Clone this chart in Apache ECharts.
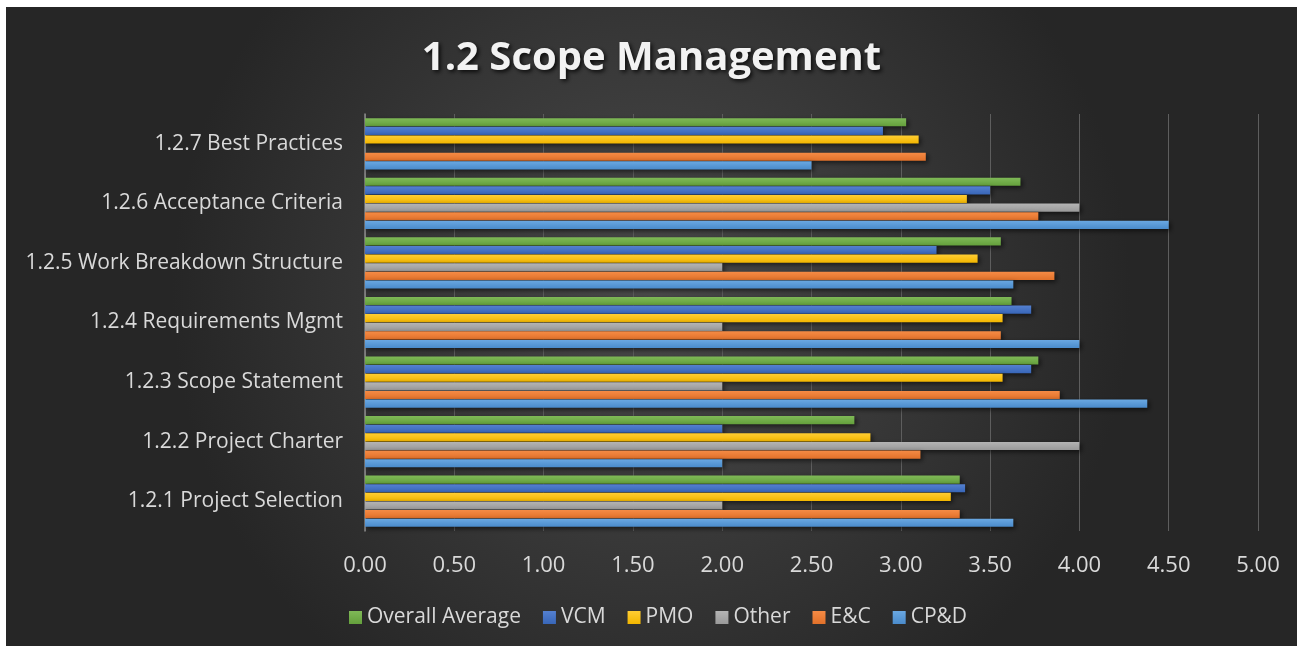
<!DOCTYPE html>
<html>
<head>
<meta charset="utf-8">
<script src="https://cdn.jsdelivr.net/npm/echarts@6/dist/echarts.min.js"></script>
<style>
  html, body { margin: 0; padding: 0; background: #ffffff; }
  #chart { position: absolute; left: 6px; top: 7px; width: 1291px; height: 639px; }
</style>
</head>
<body>
<div id="chart"></div>
<script>
// categories, bottom to top
var categories = ['1.2.1 Project Selection', '1.2.2 Project Charter', '1.2.3 Scope Statement',
  '1.2.4 Requirements Mgmt', '1.2.5 Work Breakdown Structure', '1.2.6 Acceptance Criteria', '1.2.7 Best Practices'];
var xTicks = [0, 0.5, 1, 1.5, 2, 2.5, 3, 3.5, 4, 4.5, 5];

var cpd     = [3.63, 2.00, 4.38, 4.00, 3.63, 4.50, 2.50];
var ec      = [3.33, 3.11, 3.89, 3.56, 3.86, 3.77, 3.14];
var other   = [2.00, 4.00, 2.00, 2.00, 2.00, 4.00, 0];
var pmo     = [3.28, 2.83, 3.57, 3.57, 3.43, 3.37, 3.10];
var vcm     = [3.36, 2.00, 3.73, 3.73, 3.20, 3.50, 2.90];
var overall = [3.33, 2.74, 3.77, 3.62, 3.56, 3.67, 3.03];

// first series is drawn at the top of each group
var seriesNames = ['Overall Average', 'VCM', 'PMO', 'Other', 'E&C', 'CP&D'];
var seriesData = [overall, vcm, pmo, other, ec, cpd];
var seriesColor = {
  'CP&D': ['#6aa8e2', '#4a8bcb'],
  'E&C': ['#f58b45', '#e2712a'],
  'Other': ['#b4b4b4', '#999999'],
  'PMO': ['#ffcd33', '#f2b600'],
  'VCM': ['#5480d0', '#3866b8'],
  'Overall Average': ['#7fb957', '#64a03c']
};

var myChart = echarts.init(document.getElementById('chart'));

var series = [];
for (var i = 0; i < seriesNames.length; i++) {
  var c = seriesColor[seriesNames[i]];
  series.push({
    name: seriesNames[i],
    type: 'bar',
    barGap: '6%',
    barCategoryGap: '14%',
    data: seriesData[i],
    itemStyle: {
      color: new echarts.graphic.LinearGradient(0, 0, 0, 1, [
        { offset: 0, color: c[0] },
        { offset: 1, color: c[1] }
      ]),
      shadowColor: 'rgba(0,0,0,0.6)',
      shadowBlur: 5,
      shadowOffsetX: 2,
      shadowOffsetY: 2
    }
  });
}

var option = {
  backgroundColor: {
    type: 'radial', x: 0.5, y: 0.45, r: 0.75,
    colorStops: [
      { offset: 0, color: '#4b4b4b' },
      { offset: 1, color: '#262626' }
    ]
  },
  animation: false,
  title: {
    text: '1.2 Scope Management',
    left: 'center',
    top: 27,
    textStyle: {
      color: '#f2f2f2',
      fontFamily: 'Open Sans',
      fontWeight: 'bold',
      fontSize: 40,
      textShadowColor: 'rgba(0,0,0,0.8)',
      textShadowBlur: 4,
      textShadowOffsetX: 2,
      textShadowOffsetY: 2
    }
  },
  legend: {
    data: seriesNames,
    bottom: 13,
    left: 338,
    itemWidth: 13,
    itemHeight: 13,
    itemGap: 22,
    icon: 'rect',
    textStyle: { color: '#d9d9d9', fontFamily: 'Open Sans', fontSize: 21 }
  },
  grid: { left: 359, right: 39, top: 107, bottom: 115 },
  xAxis: {
    type: 'value',
    min: xTicks[0],
    max: xTicks[xTicks.length - 1],
    interval: 0.5,
    axisLine: { show: false },
    axisTick: { show: false },
    axisLabel: {
      color: '#d9d9d9', fontFamily: 'Open Sans', fontSize: 22, margin: 24,
      formatter: function (v) { return v.toFixed(2); }
    },
    splitLine: { lineStyle: { color: '#5e5e5e', width: 1 } }
  },
  yAxis: {
    type: 'category',
    data: categories,
    axisLine: { show: true, lineStyle: { color: '#8c8c8c', width: 1.5 } },
    axisTick: { show: false },
    axisLabel: { color: '#d9d9d9', fontFamily: 'Open Sans', fontSize: 21, margin: 22 }
  },
  series: series
};

myChart.setOption(option);
</script>
</body>
</html>
